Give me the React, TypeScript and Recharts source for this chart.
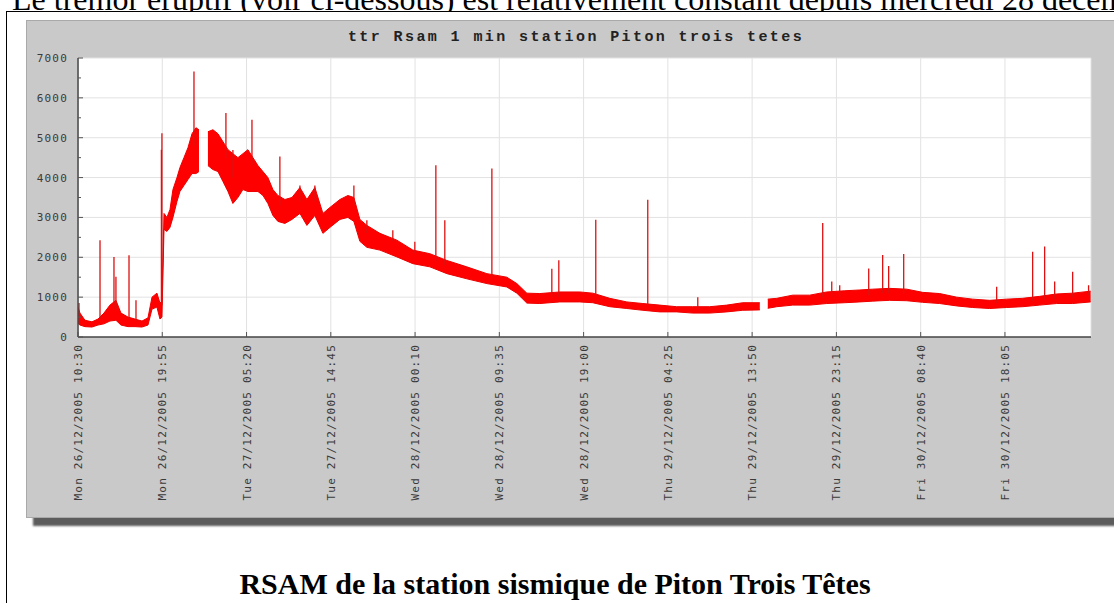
import React from "react";
import {
  ComposedChart,
  Area,
  Line,
  XAxis,
  YAxis,
  CartesianGrid,
} from "recharts";

// hours since Mon 26/12/2005 10:30
const bandHours = [
  0, 0.22, 0.78, 1.56, 2.23, 2.9, 3.57, 4.24, 4.8, 5.59, 6.37, 7.15, 7.82, 8.27,
  8.82, 9.16, 9.38, 9.61, 9.94, 10.28, 10.61, 11.06, 11.39, 11.84, 12.29, 12.74,
  13.18, 13.52, 13.8, 14.52, 15.08, 15.64, 16.2, 16.76, 17.31, 17.87, 18.43,
  18.99, 19.55, 20.11, 20.67, 21.22, 21.78, 22.34, 23.12, 23.91, 24.8, 25.58,
  26.47, 27.37, 28.15, 29.27, 30.16, 30.83, 31.5, 32.28, 33.74, 35.63, 37.42,
  39.32, 41.22, 43.45, 45.69, 47.92, 49.04, 50.16, 51.61, 53.84, 56.08, 57.53,
  59.43, 61.33, 63.12, 65.01, 66.91, 68.7, 70.6, 72.5, 74.29, 76.19, 76.6,
  77.08, 78.08, 79.87, 81.77, 83.67, 85.68, 87.36, 88.81, 90.71, 92.61, 94.39,
  96.29, 98.19, 99.98, 101.88, 103.78, 105.56, 107.46, 109.36, 111.15, 113.16,
];
// lower / upper edge of the noisy tremor band (null = data gap)
const bandLow = [
  340, 300, 260, 250, 300, 330, 400, 420, 300, 260, 260, 250, 300, 700, 750,
  450, 500, 2700, 2650, 2750, 3000, 3400, 3650, 3800, 3950, 4100, 4100, 4150,
  null, 4300, 4200, 4150, 3900, 3650, 3350, 3500, 3700, 3650, 3650, 3650, 3550,
  3350, 3050, 2900, 2850, 2950, 3100, 2800, 3050, 2600, 2750, 2950, 3000, 2900,
  2400, 2250, 2180, 2010, 1840, 1760, 1590, 1460, 1340, 1255, 1100, 850, 840,
  880, 880, 860, 760, 715, 670, 630, 630, 600, 600, 630, 670, 680, null, 720,
  760, 800, 800, 840, 860, 880, 900, 920, 910, 870, 840, 780, 740, 715, 740, 760,
  800, 840, 840, 880,
];
const bandHigh = [
  750, 600, 420, 380, 450, 600, 800, 920, 600, 500, 450, 400, 480, 1000, 1100,
  850, 900, 3100, 3000, 3200, 3700, 4000, 4250, 4500, 4750, 5100, 5250, 5200,
  null, 5150, 5200, 5100, 4900, 4700, 4600, 4500, 4600, 4700, 4500, 4300, 4150,
  4000, 3700, 3550, 3450, 3500, 3750, 3450, 3750, 3100, 3250, 3450, 3550, 3500,
  2950, 2800, 2600, 2430, 2180, 2090, 1920, 1760, 1590, 1500, 1340, 1100, 1090,
  1130, 1130, 1100, 970, 880, 840, 800, 760, 760, 760, 800, 860, 860, null, 950,
  970, 1050, 1050, 1130, 1160, 1180, 1200, 1220, 1200, 1120, 1090, 1000, 950,
  920, 950, 970, 1020, 1080, 1100, 1150,
];

// isolated spikes above the band
const spikeHours = [
  0.11, 2.46, 4.02, 4.24, 5.7, 6.48, 9.32, 9.38, 12.96, 16.53, 17.31, 19.44,
  22.56, 24.8, 26.47, 30.83, 32.28, 35.18, 37.64, 39.99, 40.99, 46.25, 52.95,
  53.73, 57.86, 63.67, 69.26, 83.22, 84.23, 85.12, 88.36, 89.92, 90.59, 92.27,
  102.66, 106.68, 108.02, 109.14, 111.15, 112.93,
];
const spikePeak = [
  850, 2430, 2010, 1510, 2050, 920, 4700, 5110, 6660, 5620, 4690, 5450, 4530,
  3800, 3800, 3800, 2930, 2680, 2390, 4310, 2930, 4230, 1715, 1925, 2940, 3445,
  1000, 2860, 1390, 1300, 1720, 2060, 1780, 2080, 1260, 2140, 2270, 1390, 1640,
  1300,
];
const spikeBase = [
  500, 450, 700, 700, 450, 400, 800, 800, 4800, 4500, 4000, 4300, 3300, 3400,
  3400, 3300, 2600, 2400, 2100, 1900, 1800, 1500, 1000, 1000, 1050, 800, 700,
  1000, 1000, 1000, 1050, 1100, 1100, 1100, 850, 900, 950, 950, 1000, 1050,
];

const tickHours = [
  0, 9.4167, 18.8333, 28.25, 37.6667, 47.0833, 56.5, 65.9167, 75.3333, 84.75,
  94.1667, 103.5833,
];
const tickLabels = [
  "Mon 26/12/2005 10:30",
  "Mon 26/12/2005 19:55",
  "Tue 27/12/2005 05:20",
  "Tue 27/12/2005 14:45",
  "Wed 28/12/2005 00:10",
  "Wed 28/12/2005 09:35",
  "Wed 28/12/2005 19:00",
  "Thu 29/12/2005 04:25",
  "Thu 29/12/2005 13:50",
  "Thu 29/12/2005 23:15",
  "Fri 30/12/2005 08:40",
  "Fri 30/12/2005 18:05",
];
const yTicks = [
  0, 500, 1000, 1500, 2000, 2500, 3000, 3500, 4000, 4500, 5000, 5500, 6000,
  6500, 7000,
];
const yGrid = [1000, 2000, 3000, 4000, 5000, 6000, 7000];

const bandData = bandHours.map((t, i) => ({
  t,
  band: bandLow[i] == null ? null : [bandLow[i], bandHigh[i]],
}));

const spikeData = spikeHours.flatMap((t, i) => [
  { t, v: spikeBase[i] },
  { t, v: spikePeak[i] },
  { t, v: null },
]);

const tickFont = {
  fontFamily: "DejaVu Sans Mono",
  fontSize: 11,
  letterSpacing: 1.2,
  fill: "#3a3a3a",
};

const YTick = (props: any) => {
  const { x, y, payload } = props;
  const major = payload.value % 1000 === 0;
  return (
    <g>
      {major && (
        <text x={x} y={y} dy={4} textAnchor="end" style={tickFont}>
          {payload.value}
        </text>
      )}
      <line
        x1={x + 10}
        x2={x + (major ? 15 : 13)}
        y1={y}
        y2={y}
        stroke="#555"
      />
    </g>
  );
};

const XTick = (props: any) => {
  const { x, y, index } = props;
  return (
    <g>
      <line x1={x} x2={x} y1={y - 7} y2={y - 12} stroke="#555" />
      <text
        transform={`translate(${x},${y}) rotate(-90)`}
        textAnchor="end"
        dy={4}
        style={tickFont}
      >
        {tickLabels[index]}
      </text>
    </g>
  );
};

export default function App() {
  return (
    <div
      style={{
        position: "absolute",
        left: 0,
        top: 0,
        width: 1114,
        height: 603,
        overflow: "hidden",
        background: "#fff",
        fontFamily: "Liberation Serif",
      }}
    >
      <div
        style={{
          position: "absolute",
          left: 12,
          top: -17,
          fontSize: 32,
          lineHeight: "32px",
          whiteSpace: "nowrap",
          color: "#000",
        }}
      >
        Le trémor éruptif (voir ci-dessous) est relativement constant depuis
        mercredi 28 décembre
      </div>
      <div
        style={{
          position: "absolute",
          left: 6,
          top: 11,
          width: 1200,
          height: 700,
          border: "1px solid #000",
          background: "#fff",
        }}
      />
      <div
        style={{
          position: "absolute",
          left: 26,
          top: 20,
          width: 1100,
          height: 498,
          background: "#c9c9c9",
          border: "1px solid #a9a9a9",
          boxSizing: "border-box",
          boxShadow: "7px 8px 2px #5c5c5c",
        }}
      />
      <div
        style={{
          position: "absolute",
          left: 26,
          top: 30,
          width: 1100,
          textAlign: "center",
          fontFamily: "Liberation Mono",
          fontWeight: "bold",
          fontSize: 15,
          lineHeight: "15px",
          letterSpacing: 2.4,
          color: "#222",
          whiteSpace: "nowrap",
        }}
      >
        ttr Rsam 1 min station Piton trois tetes
      </div>
      <div style={{ position: "absolute", left: 26, top: 20 }}>
        <ComposedChart
          width={1100}
          height={498}
          margin={{ top: 38, right: 35, bottom: 0, left: 0 }}
        >
          <CartesianGrid
            fill="#ffffff"
            stroke="#e2e2e2"
            horizontalValues={yGrid}
          />
          <XAxis
            dataKey="t"
            type="number"
            domain={[0, 113.2]}
            ticks={tickHours}
            interval={0}
            height={181}
            tickSize={0}
            tickMargin={7}
            tick={<XTick />}
            axisLine={{ stroke: "#444", strokeWidth: 1.5 }}
            allowDataOverflow
          />
          <YAxis
            type="number"
            domain={[0, 7000]}
            ticks={yTicks}
            interval={0}
            width={52}
            tickSize={0}
            tickMargin={10}
            tick={<YTick />}
            axisLine={{ stroke: "#444", strokeWidth: 1.5 }}
            allowDataOverflow
          />
          <Area
            data={bandData}
            dataKey="band"
            type="linear"
            stroke="#ee0000"
            strokeWidth={1}
            fill="#ff0000"
            fillOpacity={1}
            isAnimationActive={false}
          />
          <Line
            data={spikeData}
            dataKey="v"
            type="linear"
            stroke="#dd1111"
            strokeWidth={1.3}
            dot={false}
            isAnimationActive={false}
          />
        </ComposedChart>
      </div>
      <div
        style={{
          position: "absolute",
          left: 0,
          top: 569,
          width: 1110,
          textAlign: "center",
          fontWeight: "bold",
          fontSize: 30,
          lineHeight: "30px",
          whiteSpace: "nowrap",
          color: "#000",
        }}
      >
        RSAM de la station sismique de Piton Trois Têtes
      </div>
    </div>
  );
}
